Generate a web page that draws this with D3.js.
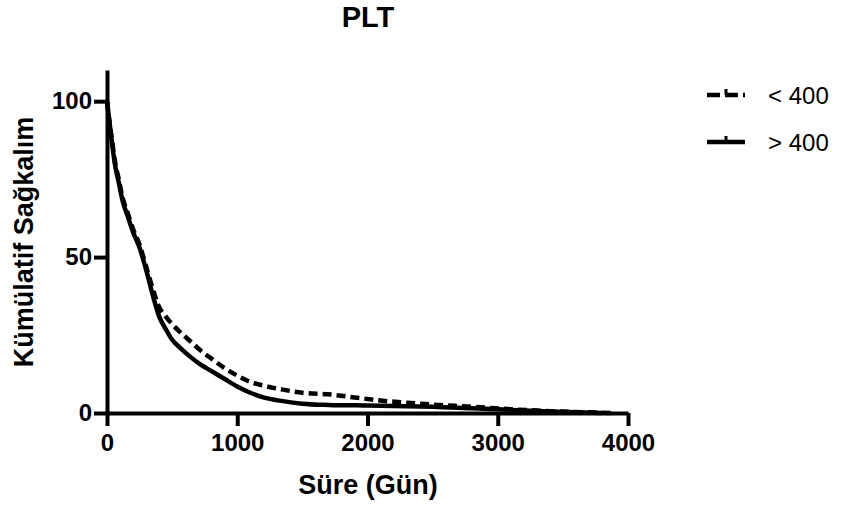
<!DOCTYPE html>
<html>
<head>
<meta charset="utf-8">
<script src="https://cdn.jsdelivr.net/npm/d3@7"></script>
<style>
  body { margin: 0; background: #fff; }
  svg { font-family: "Liberation Sans", Arial, Helvetica, sans-serif; }
</style>
</head>
<body>
<script>
// Kaplan-Meier style survival
const timesLow = [0, 20, 40, 60, 90, 120, 160, 200, 250, 300, 350, 400, 450, 500, 560, 640, 720, 800, 900, 1000, 1100, 1200, 1350, 1500, 1700, 1900, 2100, 2300, 2500, 2800, 3100, 3400, 3900];
const survLow = [100, 93, 87, 81, 75, 69, 64, 59, 54, 47, 40, 34, 31, 28.5, 26, 23, 20, 17.5, 14.5, 12, 10, 8.8, 7.5, 6.5, 6, 5, 4, 3.3, 2.7, 2, 1.2, 0.6, 0];

const timesHigh = [0, 20, 40, 60, 90, 120, 160, 200, 250, 300, 350, 400, 450, 500, 560, 640, 720, 800, 900, 1000, 1100, 1200, 1350, 1500, 1700, 2000, 2300, 2500, 2800, 3100, 3400, 3800];
const survHigh = [100, 93, 86, 80, 74, 68, 63, 58, 53, 46, 38, 31, 27, 23.5, 21, 18, 15.5, 13.5, 11, 8.5, 6.5, 5, 3.8, 3, 2.6, 2.4, 2.2, 2, 1.5, 1, 0.5, 0];

const groups = ["< 400", "> 400"];
const xTicks = [0, 1000, 2000, 3000, 4000];
const yTicks = [0, 50, 100];

const width = 841, height = 508;
const svg = d3.select("body").append("svg")
  .attr("width", width)
  .attr("height", height);

const x = d3.scaleLinear().domain([0, 4000]).range([107, 628]);
const y = d3.scaleLinear().domain([0, 110]).range([413, 70]);

// axes
const yAxis = svg.append("g")
  .attr("transform", "translate(107,0)")
  .call(d3.axisLeft(y).tickValues(yTicks).tickFormat(d3.format("d"))
    .tickSize(13).tickSizeOuter(0).tickPadding(2));

const xAxis = svg.append("g")
  .attr("transform", "translate(0,413)")
  .call(d3.axisBottom(x).tickValues(xTicks).tickFormat(d3.format("d"))
    .tickSize(13).tickSizeOuter(0).tickPadding(8));

[xAxis, yAxis].forEach(g => {
  g.select(".domain").attr("stroke", "#000").attr("stroke-width", 4);
  g.selectAll(".tick line").attr("stroke", "#000").attr("stroke-width", 4);
  g.selectAll(".tick text")
    .attr("fill", "#000")
    .style("font-size", "24px")
    .style("font-weight", "bold");
});

// curves
const line = d3.line()
  .x(d => x(d[0]))
  .y(d => y(d[1]))
  .curve(d3.curveMonotoneX);

svg.append("path")
  .datum(timesLow.map((t, i) => [t, survLow[i]]))
  .attr("fill", "none")
  .attr("stroke", "#000")
  .attr("stroke-width", 4.5)
  .attr("stroke-dasharray", "9,5")
  .attr("d", line);

svg.append("path")
  .datum(timesHigh.map((t, i) => [t, survHigh[i]]))
  .attr("fill", "none")
  .attr("stroke", "#000")
  .attr("stroke-width", 4.5)
  .attr("d", line);

// titles
svg.append("text")
  .attr("x", 368).attr("y", 27)
  .attr("text-anchor", "middle")
  .style("font-size", "29px").style("font-weight", "bold")
  .text("PLT");

svg.append("text")
  .attr("x", 368).attr("y", 494)
  .attr("text-anchor", "middle")
  .style("font-size", "27px").style("font-weight", "bold")
  .text("Süre (Gün)");

svg.append("text")
  .attr("transform", "translate(33,242) rotate(-90)")
  .attr("text-anchor", "middle")
  .style("font-size", "27px").style("font-weight", "bold")
  .text("Kümülatif Sağkalım");

// legend
const legend = svg.append("g")
  .selectAll("g")
  .data(groups)
  .join("g")
  .attr("transform", (d, i) => `translate(707,${95 + i * 47})`);

legend.append("line")
  .attr("x1", 0).attr("x2", 38)
  .attr("stroke", "#000")
  .attr("stroke-width", 4.5)
  .attr("stroke-dasharray", (d, i) => i === 0 ? "13,5" : null);

legend.append("line")
  .attr("x1", 19).attr("x2", 19)
  .attr("y1", -6).attr("y2", 0)
  .attr("stroke", "#000")
  .attr("stroke-width", 3);

legend.append("text")
  .attr("x", 61).attr("y", 1)
  .attr("dy", "0.32em")
  .style("font-size", "24px")
  .text(d => d);
</script>
</body>
</html>
